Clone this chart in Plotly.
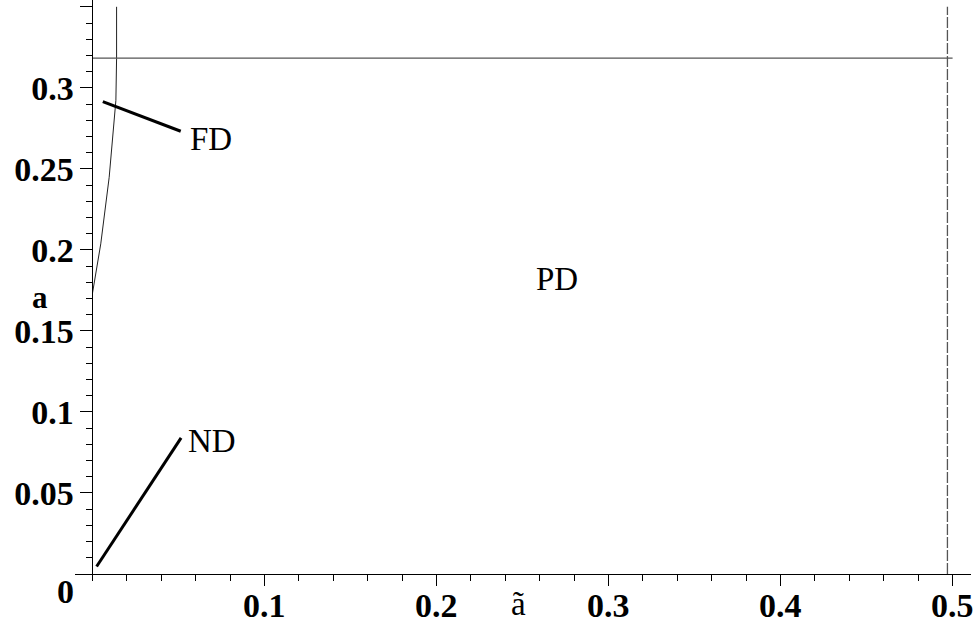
import plotly.graph_objects as go

# ---- data ----
fd_curve_x = [0.0, 0.0048, 0.0097, 0.0132, 0.0136, 0.0140, 0.0140]
fd_curve_y = [0.1733, 0.2037, 0.2448, 0.2860, 0.2922, 0.3183, 0.350]

hline_y = 0.3183          # horizontal boundary
hline_x = [0.0, 0.5]
vline_x = 0.497           # dashed vertical boundary
vline_y = [0.0, 0.350]

fd_pointer_x = [0.0060, 0.0513]
fd_pointer_y = [0.2915, 0.2732]
nd_pointer_x = [0.0024, 0.0515]
nd_pointer_y = [0.0046, 0.0840]

region_labels = ["FD", "ND", "PD"]
region_x = [0.0553, 0.0544, 0.270]
region_y = [0.2695, 0.0831, 0.1831]

x_tickvals = [0.0, 0.1, 0.2, 0.3, 0.4, 0.5]
x_ticktext = ["", "0.1", "0.2", "0.3", "0.4", "0.5"]
y_tickvals = [0.0, 0.05, 0.1, 0.15, 0.2, 0.25, 0.3, 0.35]
y_ticktext = ["", "0.05", "0.1", "0.15", "0.2", "0.25", "0.3", ""]

x_range = [-0.01017, 0.5107]
y_range = [0.0, 0.3542]

W, H = 977, 628
ML, MR, MT, MB = 75, 6, 0, 54
SERIF = "Liberation Serif"

fig = go.Figure()

fig.add_trace(go.Scatter(x=fd_curve_x, y=fd_curve_y, mode="lines",
                         line=dict(color="#222222", width=1), showlegend=False))
fig.add_trace(go.Scatter(x=hline_x, y=[hline_y, hline_y], mode="lines",
                         line=dict(color="#555555", width=1.3), showlegend=False))
fig.add_trace(go.Scatter(x=[vline_x, vline_x], y=vline_y, mode="lines",
                         line=dict(color="#555555", width=1.3, dash="11px,2px"),
                         showlegend=False))
fig.add_trace(go.Scatter(x=fd_pointer_x, y=fd_pointer_y, mode="lines",
                         line=dict(color="black", width=3), showlegend=False))
fig.add_trace(go.Scatter(x=nd_pointer_x, y=nd_pointer_y, mode="lines",
                         line=dict(color="black", width=3), showlegend=False))

for lab, lx, ly in zip(region_labels, region_x, region_y):
    fig.add_annotation(x=lx, y=ly, xref="x", yref="y", text=lab, showarrow=False,
                       xanchor="center" if lab == "PD" else "left", yanchor="middle",
                       yshift=-2,
                       font=dict(family=SERIF, size=33, color="black"))

pw = W - ML - MR
ph = H - MT - MB


def px_to_paper(px, py):
    return (px - ML) / pw, (H - MB - py) / ph


yaxis_pos = (0 - x_range[0]) / (x_range[1] - x_range[0])

# x tick labels (placed at the tick values, slightly closer to the axis)
_, xlab_y = px_to_paper(0, 605.5)
for v, t in zip(x_tickvals, x_ticktext):
    if t:
        fig.add_annotation(x=v, y=xlab_y, xref="x", yref="paper", text=t,
                           showarrow=False, xanchor="center", yanchor="middle",
                           font=dict(family=SERIF, size=34, color="black",
                                     weight="bold"))

# origin label "0"
ox, oy = px_to_paper(65, 591)
fig.add_annotation(x=ox, y=oy, xref="paper", yref="paper", text="<b>0</b>",
                   showarrow=False, xanchor="center", yanchor="middle",
                   font=dict(family=SERIF, size=34, color="black"))
# axis labels
ax_, ay_ = px_to_paper(39.5, 297)
fig.add_annotation(x=ax_, y=ay_, xref="paper", yref="paper", text="<b>a</b>",
                   showarrow=False, xanchor="center", yanchor="middle",
                   font=dict(family=SERIF, size=31, color="black"))
bx_, by_ = px_to_paper(518, 604)
fig.add_annotation(x=bx_, y=by_, xref="paper", yref="paper", text="ã",
                   showarrow=False, xanchor="center", yanchor="middle",
                   font=dict(family=SERIF, size=33, color="black"))

fig.update_layout(
    width=W, height=H,
    margin=dict(l=ML, r=MR, t=MT, b=MB, pad=0),
    paper_bgcolor="white", plot_bgcolor="white",
    showlegend=False,
    xaxis=dict(range=x_range, showgrid=False, zeroline=False,
               showline=True, linecolor="black", linewidth=1,
               ticks="outside", ticklen=11, tickwidth=1, tickcolor="black",
               tickmode="array", tickvals=x_tickvals, ticktext=x_ticktext,
               showticklabels=False,
               minor=dict(dtick=0.02, tick0=0, ticks="outside", ticklen=6,
                          tickcolor="black", showgrid=False),
               fixedrange=True),
    yaxis=dict(range=y_range, showgrid=False, zeroline=False,
               anchor="free", position=yaxis_pos,
               showline=True, linecolor="black", linewidth=1,
               ticks="outside", ticklen=12, tickwidth=1, tickcolor="black",
               tickmode="array", tickvals=y_tickvals, ticktext=y_ticktext,
               tickfont=dict(family=SERIF, size=34, color="black", weight="bold"),
               minor=dict(dtick=0.01, tick0=0, ticks="outside", ticklen=6,
                          tickcolor="black", showgrid=False),
               fixedrange=True),
)

fig.write_html("out.html")
